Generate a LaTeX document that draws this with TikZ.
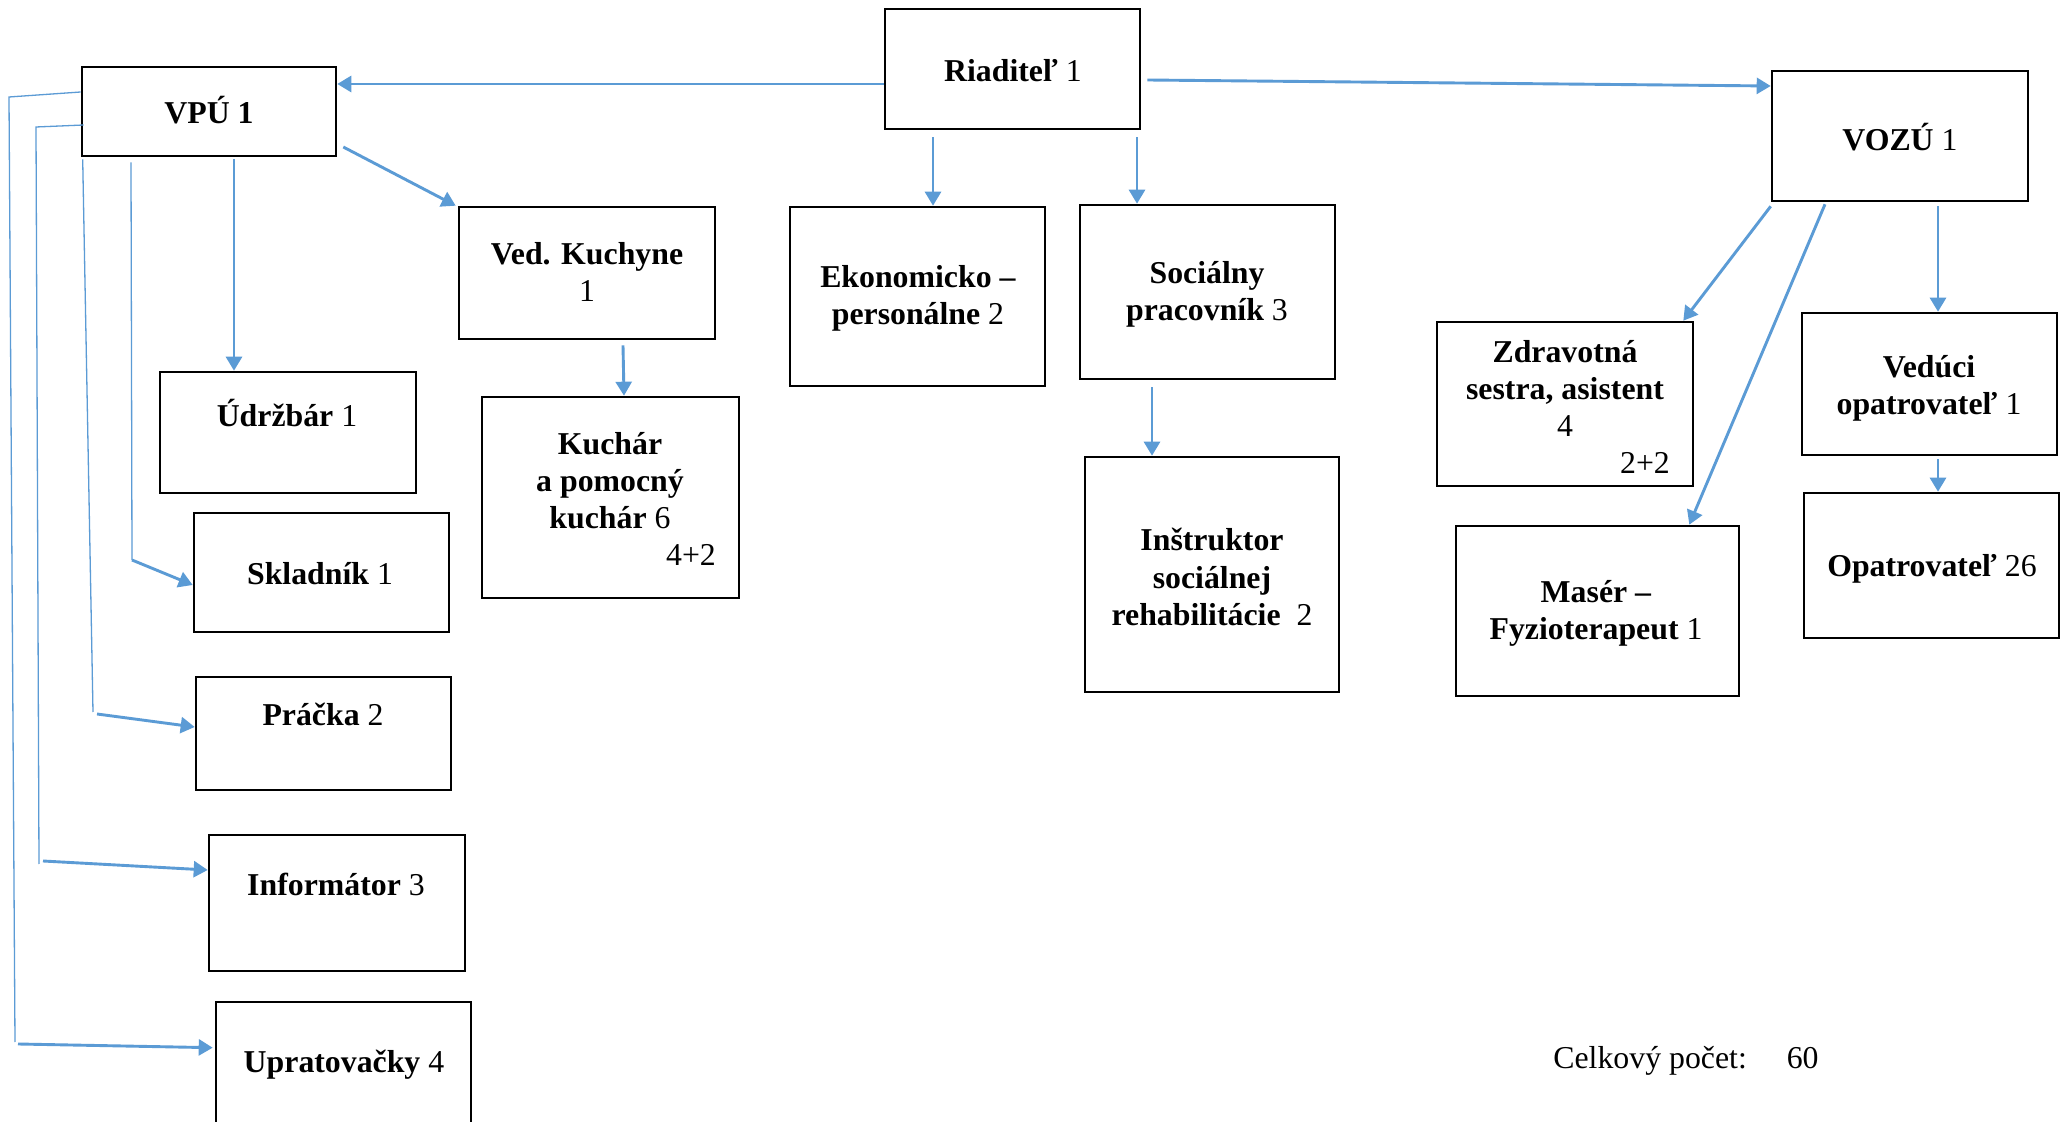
\documentclass[tikz,border=0pt]{standalone}
\usepackage{fontspec}
\setmainfont{Liberation Serif}
\usetikzlibrary{arrows.meta,calc}
\definecolor{lnblue}{HTML}{5B9BD5}
\tikzset{
  box/.style={draw=black, line width=1.3pt, rectangle, inner sep=0pt},
  lbl/.style={align=center, inner sep=0pt, font=\fontsize{15.9pt}{18.6pt}\selectfont},
  arr/.style={draw=lnblue, line width=1.45pt, -{Triangle[length=7pt,width=8pt]}},
  thinln/.style={draw=lnblue, line width=0.65pt},
}
\newcommand\mybox[5]{\node[box, minimum width={(#4-#2)*0.5pt}, minimum height={(#5-#3)*0.5pt}] (#1) at ({(#2+#4)/2},{(#3+#5)/2}) {};}
\begin{document}
\begin{tikzpicture}[x=0.5pt,y=-0.5pt]
\useasboundingbox (0,0) rectangle (2069,1122);
\clip (0,0) rectangle (2069,1122);
\fill[white] (0,0) rectangle (2069,1122);
% boxes
\mybox{riad}{885}{9}{1140}{129}
\mybox{vpu}{82}{67}{336}{156}
\mybox{vozu}{1772}{71}{2028}{201}
\mybox{vedk}{459}{207}{715}{339}
\mybox{ekon}{790}{207}{1045}{386}
\mybox{soc}{1080}{205}{1335}{379}
\mybox{udr}{160}{372}{416}{493}
\mybox{kuch}{482}{397}{739}{598}
\mybox{zdrav}{1437}{322}{1693}{486}
\mybox{vedu}{1802}{313}{2057}{455}
\mybox{skl}{194}{513}{449}{632}
\mybox{instr}{1085}{457}{1339}{692}
\mybox{maser}{1456}{526}{1739}{696}
\mybox{opat}{1804}{493}{2059}{638}
\mybox{prac}{196}{677}{451}{790}
\mybox{info}{209}{835}{465}{971}
\mybox{uprat}{216}{1002}{471}{1140}
% texts
\node[lbl] (t-riad) at (1013,71) {\textbf{Riaditeľ} 1};
\node[lbl] (t-vpu) at (209,110) {\textbf{VPÚ 1}};
\node[lbl] (t-vozu) at (1900,137) {\textbf{VOZÚ} 1};
\node[lbl] (t-vedk) at (587,272) {\textbf{Ved. Kuchyne}\\1};
\node[lbl] (t-ekon) at (918,298) {\textbf{Ekonomicko –}\\\textbf{personálne} 2};
\node[lbl] (t-soc) at (1207,294) {\textbf{Sociálny}\\\textbf{pracovník} 3};
\node[lbl] (t-udr) at (287,413) {\textbf{Údržbár} 1};
\node[lbl] (t-kuch) at (610,499) {\textbf{Kuchár}\\\textbf{a pomocný}\\\textbf{kuchár} 6\\\hspace*{81pt}4+2};
\node[lbl] (t-zdrav) at (1565,407) {\textbf{Zdravotná}\\\textbf{sestra, asistent}\\4\\\hspace*{80pt}2+2};
\node[lbl] (t-vedu) at (1929,388) {\textbf{Vedúci}\\\textbf{opatrovateľ} 1};
\node[lbl] (t-skl) at (320,574) {\textbf{Skladník} 1};
\node[lbl] (t-instr) at (1212,577) {\textbf{Inštruktor}\\\textbf{sociálnej}\\\textbf{rehabilitácie}\ \ 2};
\node[lbl] (t-maser) at (1596,613) {\textbf{Masér –}\\\textbf{Fyzioterapeut} 1};
\node[lbl] (t-opat) at (1932,569) {\textbf{Opatrovateľ} 26};
\node[lbl] (t-prac) at (323,714) {\textbf{Práčka} 2};
\node[lbl] (t-info) at (336,884) {\textbf{Informátor} 3};
\node[lbl] (t-uprat) at (344,1065) {\textbf{Upratovačky} 4};
\node[lbl, anchor=base west] (t-celk) at (1553,1068) {Celkový počet:\hspace*{20pt}60};
% main connectors
\draw[arr] ($(riad.west)+(0,15)$) -- ($(vpu.east)+(0,-27.5)$);
\draw[arr] ($(riad.east)+(6,11)$) -- ($(vozu.west)+(0,-50)$);
\draw[arr] ($(riad.south)+(-79.5,7)$) -- ($(ekon.north)+(15.5,0)$);
\draw[arr] ($(riad.south)+(124.5,7)$) -- ($(soc.north)+(-70.5,0)$);
\draw[arr] ($(vpu.east)+(6,35.5)$) -- ($(vedk.north west)+(-2,0)$);
\draw[arr] ($(vpu.south)+(25,2)$) -- ($(udr.north)+(-54,0)$);
\draw[arr] ($(vedk.south)+(36,5)$) -- ($(kuch.north)+(13.5,0)$);
\draw[arr] ($(soc.south)+(-55.5,7)$) -- ($(instr.north)+(-60,0)$);
\draw[arr] ($(vozu.south west)+(0,4)$) -- ($(zdrav.north east)+(-11,0)$);
\draw[arr] ($(vozu.south)+(-75,2)$) -- ($(maser.north east)+(-51,0)$);
\draw[arr] ($(vozu.south)+(38,4)$) -- ($(vedu.north)+(8.5,0)$);
\draw[arr] ($(vedu.south)+(8.5,3)$) -- ($(opat.north)+(6.5,0)$);
% left connectors from VPU
\coordinate (c-skl) at (132,560);
\coordinate (c-prac) at (93,712);
\coordinate (c-info) at (39,864);
\coordinate (c-uprat) at (15,1042);
\draw[thinln] ($(vpu.south)+(-78,5)$) -- (c-skl);
\draw[arr] (c-skl) -- ($(skl.west)+(0,12.5)$);
\draw[thinln] ($(vpu.south west)+(2,2)$) -- (c-prac);
\draw[arr] ($(c-prac)+(4,2)$) -- ($(prac.west)+(0,-6.5)$);
\draw[thinln] ($(vpu.west)+(3,13.5)$) -- (36,127) -- (c-info);
\draw[arr] ($(c-info)+(4,-3)$) -- ($(info.west)+(0,-33)$);
\draw[thinln] ($(vpu.west)+(0,-19.5)$) -- (9,97) -- (c-uprat);
\draw[arr] ($(c-uprat)+(3,2)$) -- ($(uprat.north west)+(-2,47)$);
\end{tikzpicture}
\end{document}
